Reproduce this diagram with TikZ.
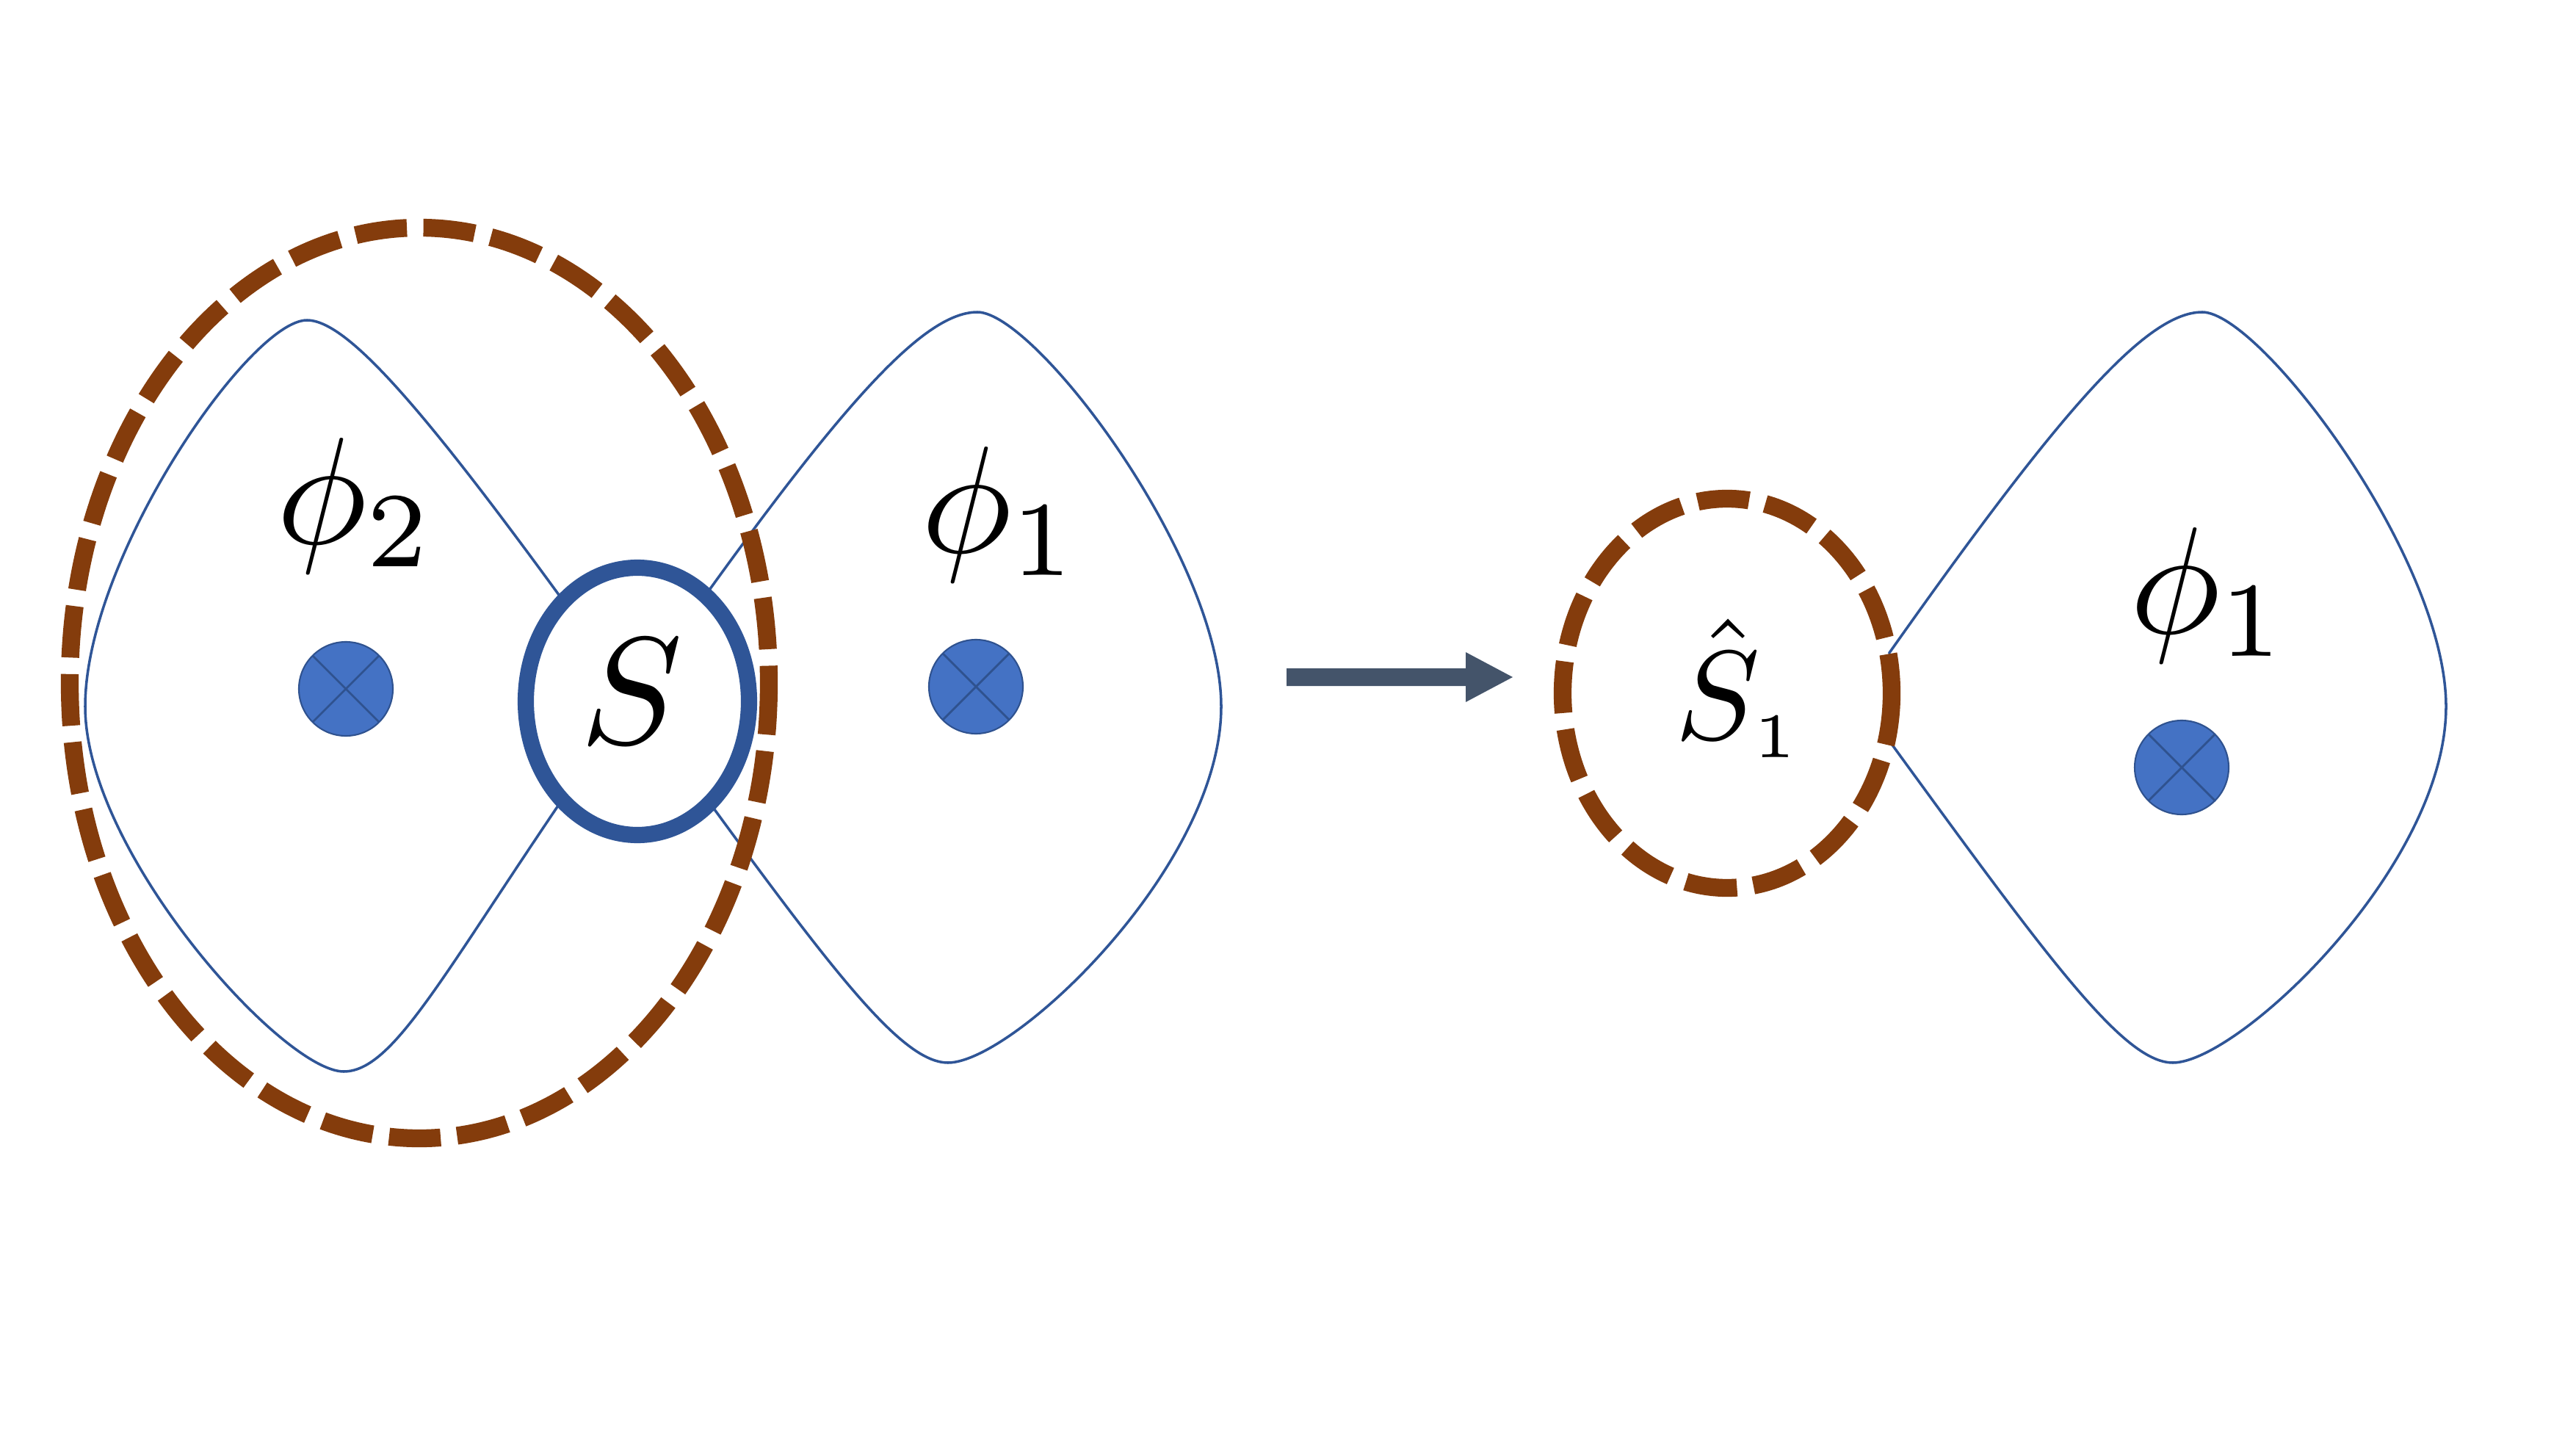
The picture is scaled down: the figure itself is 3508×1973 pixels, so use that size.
\documentclass[tikz,border=0pt]{standalone}
\definecolor{blobblue}{HTML}{2F5597}
\definecolor{ringblue}{HTML}{2F5597}
\definecolor{dotblue}{HTML}{4472C4}
\definecolor{dotedge}{HTML}{2F528F}
\definecolor{dashbrown}{HTML}{843C0C}
\definecolor{arrowgray}{HTML}{44546A}
\begin{document}
\begin{tikzpicture}[x=0.01cm,y=-0.01cm,
  blob/.style={draw=blobblue, line width=1pt},
  browndash/.style={draw=dashbrown, line width=6.9pt, dash pattern=on 20pt off 6.4pt},
  ring/.style={draw=ringblue, line width=6.3pt, fill=white},
  dotmark/.style={fill=dotblue, draw=dotedge, line width=0.6pt},
  lbl/.style={inner sep=0pt, anchor=base west, scale=5.9},
  xdot/.pic={
    \draw[dotmark] (0,0) circle [radius=64];
    \draw[dotedge, line width=0.8pt] (-45,-45) -- (45,45) (-45,45) -- (45,-45);
  }]
\useasboundingbox (0,0) rectangle (3508,1973);
\fill[white] (0,0) rectangle (3508,1973);

% left blob (phi_2)
\draw[blob] (862,950) .. controls (605,590) and (480,436) .. (418,436)
  .. controls (340,436) and (116,760) .. (116,962)
  .. controls (116,1160) and (385,1459) .. (468,1459)
  .. controls (545,1459) and (620,1290) .. (862,950) -- cycle;

% middle blob (phi_1)
\draw[blob] (862,950) .. controls (1122,578) and (1250,425) .. (1331,425)
  .. controls (1410,425) and (1663,760) .. (1663,962)
  .. controls (1663,1180) and (1380,1447) .. (1291,1447)
  .. controls (1220,1447) and (1110,1290) .. (862,950) -- cycle;

% right blob (phi_1), same shape shifted
\begin{scope}[shift={(1668,0)}]
\draw[blob] (862,950) .. controls (1122,578) and (1250,425) .. (1331,425)
  .. controls (1410,425) and (1663,760) .. (1663,962)
  .. controls (1663,1180) and (1380,1447) .. (1291,1447)
  .. controls (1220,1447) and (1110,1290) .. (862,950) -- cycle;
\end{scope}

% S ring
\draw[ring] (868,955) ellipse [x radius=152, y radius=182];

% big dashed ellipse
\draw[browndash] (571,930) ellipse [x radius=476, y radius=620];

% right dashed circle
\draw[browndash, fill=white] (2352,944) ellipse [x radius=224, y radius=265];

% dots
\pic at (471,938) {xdot};
\pic at (1329,935) {xdot};
\pic at (2971,1045) {xdot};

% arrow
\fill[arrowgray] (1752,910) -- (1996,910) -- (1996,888) -- (2060,922)
  -- (1996,956) -- (1996,934) -- (1752,934) -- cycle;

% labels
\node[lbl] (phitwo) at (372,740) {$\phi_2$};
\node[lbl] (phione) at (1250,752) {$\phi_1$};
\node[lbl] (phioneR) at (2896,862) {$\phi_1$};
\node[inner sep=0pt, anchor=base, scale=5.9] (S) at (860,1012) {$S$};
\node[inner sep=0pt, anchor=base west, scale=4.9] (Shat) at (2278,1006) {$\hat{S}_{\scriptscriptstyle 1}$};
\end{tikzpicture}
\end{document}
